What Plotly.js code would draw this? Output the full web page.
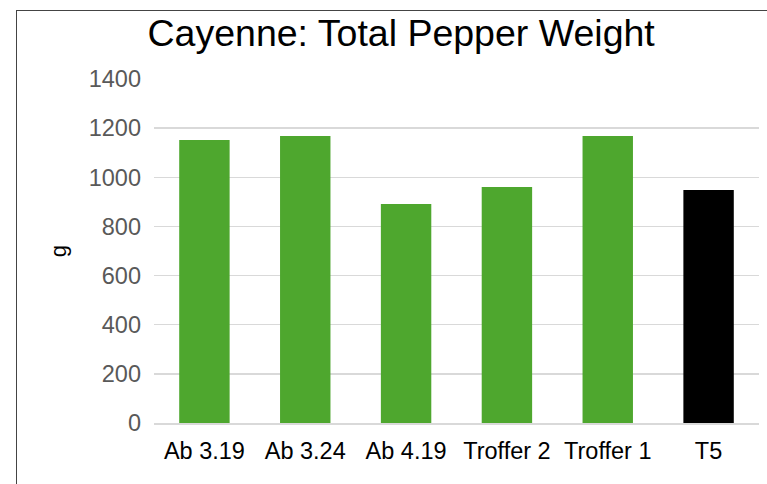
<!DOCTYPE html>
<html>
<head>
<meta charset="utf-8">
<script src="https://cdn.plot.ly/plotly-3.0.1.min.js"></script>
<style>
html,body{margin:0;padding:0;background:#fff;}
#wrap{position:relative;width:767px;height:484px;}
#chart{position:absolute;left:0;top:0;width:767px;height:484px;}
#frame{position:absolute;left:16px;top:10px;width:760px;height:480px;border-left:1.5px solid #444;border-top:1.5px solid #444;pointer-events:none;}
</style>
</head>
<body>
<div id="wrap"><div id="chart"></div><div id="frame"></div></div>
<script>
var categories = ["Ab 3.19", "Ab 3.24", "Ab 4.19", "Troffer 2", "Troffer 1", "T5"];
var weights = [1152, 1168, 891, 960, 1168, 948];
var barColors = ["#4EA72E", "#4EA72E", "#4EA72E", "#4EA72E", "#4EA72E", "#000000"];
var yTicks = [0, 200, 400, 600, 800, 1000, 1200, 1400];

var trace = {
  type: "bar",
  x: categories,
  y: weights,
  marker: {color: barColors, line: {width: 0}},
  hoverinfo: "x+y"
};

var layout = {
  width: 767,
  height: 484,
  margin: {l: 154, r: 8, t: 79, b: 61},
  paper_bgcolor: "#ffffff",
  plot_bgcolor: "#ffffff",
  bargap: 0.5,
  showlegend: false,
  font: {family: "Liberation Sans, Arial, sans-serif"},
  title: {
    text: "Cayenne: Total Pepper Weight",
    font: {size: 37.5, color: "#000000", family: "Liberation Sans, Arial, sans-serif"},
    xref: "container", x: 0.523, xanchor: "center",
    yref: "container", y: 1 - 33/484, yanchor: "middle"
  },
  xaxis: {
    type: "category",
    showgrid: false,
    showline: true,
    linecolor: "#d9d9d9",
    linewidth: 1.5,
    ticks: "",
    tickfont: {size: 23.5, color: "#000000"},
    ticklabelstandoff: 6
  },
  yaxis: {
    range: [0, 1400],
    tickvals: yTicks,
    ticktext: yTicks.map(String),
    showgrid: true,
    gridcolor: "#d9d9d9",
    gridwidth: 1.5,
    zeroline: false,
    showline: false,
    ticks: "",
    tickfont: {size: 23.5, color: "#595959"},
    ticklabelstandoff: 12,
    title: {text: "g", font: {size: 22, color: "#000000"}, standoff: 16}
  }
};

Plotly.newPlot("chart", [trace], layout, {displayModeBar: false, staticPlot: true});
</script>
</body>
</html>
